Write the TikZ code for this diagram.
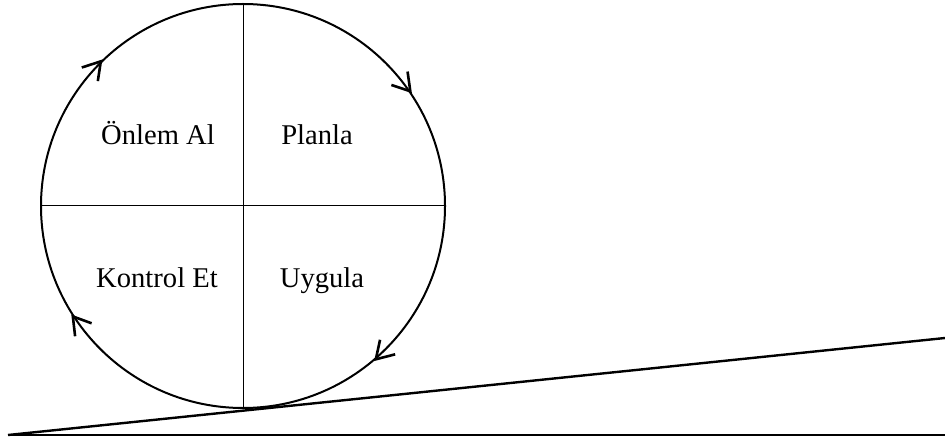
\documentclass[tikz,border=0pt]{standalone}
\usepackage{fontspec}
\setmainfont{Liberation Serif}
\usetikzlibrary{arrows.meta,decorations.markings}

\begin{document}
\begin{tikzpicture}[x=0.5pt,y=0.5pt]
  % Styles
  \tikzset{
    wheel/.style={draw, line width=1pt},
    divider/.style={draw, line width=0.5pt},
    ground/.style={draw, line width=1.2pt},
    label/.style={anchor=base, inner sep=0pt, font=\fontsize{14.3}{16}\selectfont},
    turn/.style={postaction={decorate, decoration={markings,
      mark=at position 0.110 with {\arrow{<}},
      mark=at position 0.388 with {\arrow{<}},
      mark=at position 0.606 with {\arrow{<}},
      mark=at position 0.878 with {\arrow{<}}}}},
    >={Straight Barb[length=8.5pt,width=10.5pt,line width=1.3pt]},
  }

  \useasboundingbox (0,0) rectangle (945,439);

  % Ground and slope
  \coordinate (foot)  at (8,4);
  \coordinate (flat)  at (945,4);
  \coordinate (slope) at (945,101);
  \draw[ground] (foot) -- (flat);
  \draw[ground] (foot) -- (slope);

  % The cycle
  \coordinate (hub) at (243,233);
  \draw[wheel, turn] (hub) circle[radius=101pt];
  \draw[divider] ([yshift=101pt]hub) -- ([yshift=-101pt]hub);
  \draw[divider] ([xshift=-101pt]hub) -- ([xshift=101pt]hub);

  % Quarters
  \node[label] (act)   at (158,294) {Önlem Al};
  \node[label] (plan)  at (317,294) {Planla};
  \node[label] (check) at (157,152) {Kontrol Et};
  \node[label] (do)    at (322,152) {Uygula};
\end{tikzpicture}
\end{document}
